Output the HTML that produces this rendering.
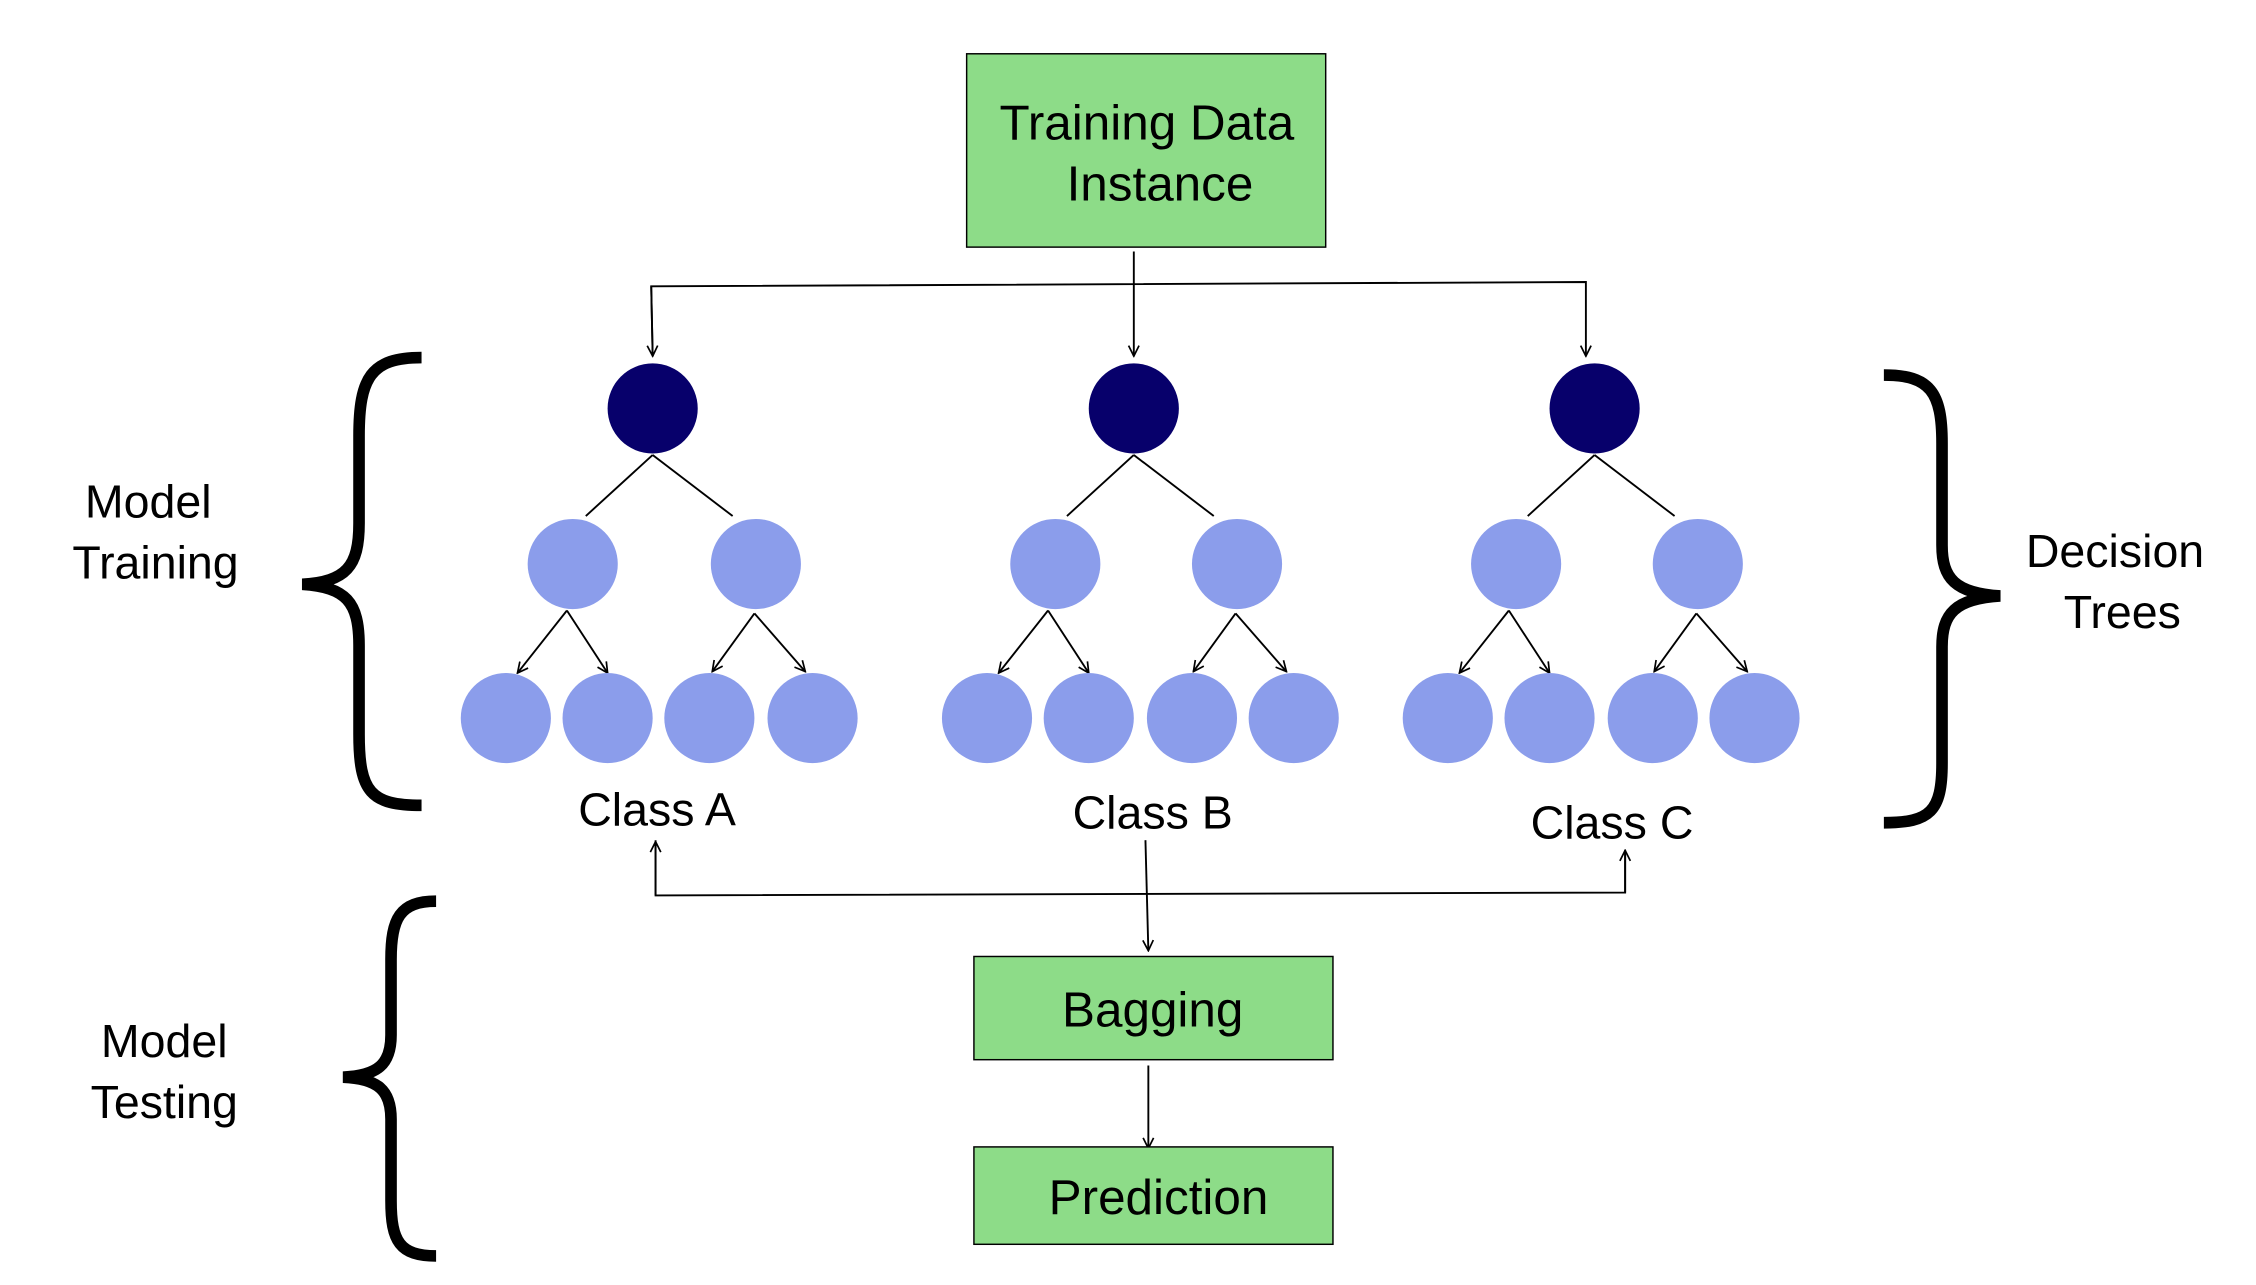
<!DOCTYPE html>
<html><head><meta charset="utf-8"><style>
html,body{margin:0;padding:0;background:#fff;}
svg{display:block;}
text{font-family:"Liberation Sans",sans-serif;fill:#000;}
</style></head><body>
<svg width="2256" height="1285" viewBox="0 0 1552 884" preserveAspectRatio="none" xmlns="http://www.w3.org/2000/svg">
<defs>
<marker id="a" viewBox="0 0 10 10" refX="9" refY="5" markerWidth="9" markerHeight="9" orient="auto" markerUnits="userSpaceOnUse">
<path d="M1,1 L9,5 L1,9" fill="none" stroke="#000" stroke-width="1.3"/></marker>
</defs>
<rect x="665" y="37" width="247" height="133" fill="#8ddc88" stroke="#000" stroke-width="1"/>
<text x="789" y="96" font-size="34" text-anchor="middle">Training Data</text>
<text x="798" y="138" font-size="34" text-anchor="middle">Instance</text>
<g stroke="#000" stroke-width="1.3" fill="none">
<line x1="780" y1="173" x2="780" y2="245" marker-end="url(#a)"/>
<polyline points="449,245 448,197 1091,194 1091,245" marker-end="url(#a)"/>
<line x1="448" y1="197" x2="449" y2="245" marker-end="url(#a)"/>
<line x1="788" y1="578" x2="790" y2="654" marker-end="url(#a)"/>
<polyline points="451,578 451,616 1118,614 1118,585"/>
<line x1="451" y1="616" x2="451" y2="579" marker-end="url(#a)"/>
<line x1="1118" y1="614" x2="1118" y2="585" marker-end="url(#a)"/>
<line x1="790" y1="733" x2="790" y2="790" marker-end="url(#a)"/>
</g>
<g id="t">
</g>
<rect x="670" y="658" width="247" height="71" fill="#8ddc88" stroke="#000" stroke-width="1"/>
<text x="793" y="706" font-size="34" text-anchor="middle">Bagging</text>
<rect x="670" y="789" width="247" height="67" fill="#8ddc88" stroke="#000" stroke-width="1"/>
<text x="797" y="835" font-size="34" text-anchor="middle">Prediction</text>

<!-- trees -->
<g stroke="#000" stroke-width="1.3" fill="none">
<!-- A -->
<line x1="449" y1="313" x2="403" y2="355"/><line x1="449" y1="313" x2="504" y2="355"/>
<line x1="390" y1="420" x2="356" y2="463" marker-end="url(#a)"/><line x1="390" y1="420" x2="418" y2="463" marker-end="url(#a)"/>
<line x1="519" y1="422" x2="490" y2="462" marker-end="url(#a)"/><line x1="519" y1="422" x2="554" y2="462" marker-end="url(#a)"/>
<!-- B -->
<line x1="780" y1="313" x2="734" y2="355"/><line x1="780" y1="313" x2="835" y2="355"/>
<line x1="721" y1="420" x2="687" y2="463" marker-end="url(#a)"/><line x1="721" y1="420" x2="749" y2="463" marker-end="url(#a)"/>
<line x1="850" y1="422" x2="821" y2="462" marker-end="url(#a)"/><line x1="850" y1="422" x2="885" y2="462" marker-end="url(#a)"/>
<!-- C -->
<line x1="1097" y1="313" x2="1051" y2="355"/><line x1="1097" y1="313" x2="1152" y2="355"/>
<line x1="1038" y1="420" x2="1004" y2="463" marker-end="url(#a)"/><line x1="1038" y1="420" x2="1066" y2="463" marker-end="url(#a)"/>
<line x1="1167" y1="422" x2="1138" y2="462" marker-end="url(#a)"/><line x1="1167" y1="422" x2="1202" y2="462" marker-end="url(#a)"/>
</g>
<g fill="#07006b">
<circle cx="449" cy="281" r="31"/><circle cx="780" cy="281" r="31"/><circle cx="1097" cy="281" r="31"/>
</g>
<g fill="#8b9deb">
<circle cx="394" cy="388" r="31"/><circle cx="520" cy="388" r="31"/>
<circle cx="348" cy="494" r="31"/><circle cx="418" cy="494" r="31"/><circle cx="488" cy="494" r="31"/><circle cx="559" cy="494" r="31"/>
<circle cx="726" cy="388" r="31"/><circle cx="851" cy="388" r="31"/>
<circle cx="679" cy="494" r="31"/><circle cx="749" cy="494" r="31"/><circle cx="820" cy="494" r="31"/><circle cx="890" cy="494" r="31"/>
<circle cx="1043" cy="388" r="31"/><circle cx="1168" cy="388" r="31"/>
<circle cx="996" cy="494" r="31"/><circle cx="1066" cy="494" r="31"/><circle cx="1137" cy="494" r="31"/><circle cx="1207" cy="494" r="31"/>
</g>
<text x="452" y="568" font-size="32" text-anchor="middle">Class A</text>
<text x="793" y="570" font-size="32" text-anchor="middle">Class B</text>
<text x="1109" y="577" font-size="32" text-anchor="middle">Class C</text>

<!-- braces -->
<g stroke="#000" stroke-width="8" fill="none">
<path d="M290,246 C255,246 247,260 247,300 L247,360 C247,390 238,400 208,402 C238,404 247,414 247,444 L247,505 C247,545 255,554 290,554"/>
<path d="M300,620 C275,620 269,632 269,660 L269,712 C269,732 260,740 236,741 C260,742 269,750 269,770 L269,826 C269,854 275,864 300,864"/>
<path d="M1296,258 C1328,258 1336,270 1336,305 L1336,375 C1336,398 1345,408 1376,410 C1345,412 1336,422 1336,445 L1336,525 C1336,558 1328,566 1296,566"/>
</g>
<text x="102" y="356" font-size="32" text-anchor="middle">Model</text>
<text x="107" y="398" font-size="32" text-anchor="middle">Training</text>
<text x="113" y="727" font-size="32" text-anchor="middle">Model</text>
<text x="113" y="769" font-size="32" text-anchor="middle">Testing</text>
<text x="1455" y="390" font-size="32" text-anchor="middle">Decision</text>
<text x="1460" y="432" font-size="32" text-anchor="middle">Trees</text>
</svg>
</body></html>
